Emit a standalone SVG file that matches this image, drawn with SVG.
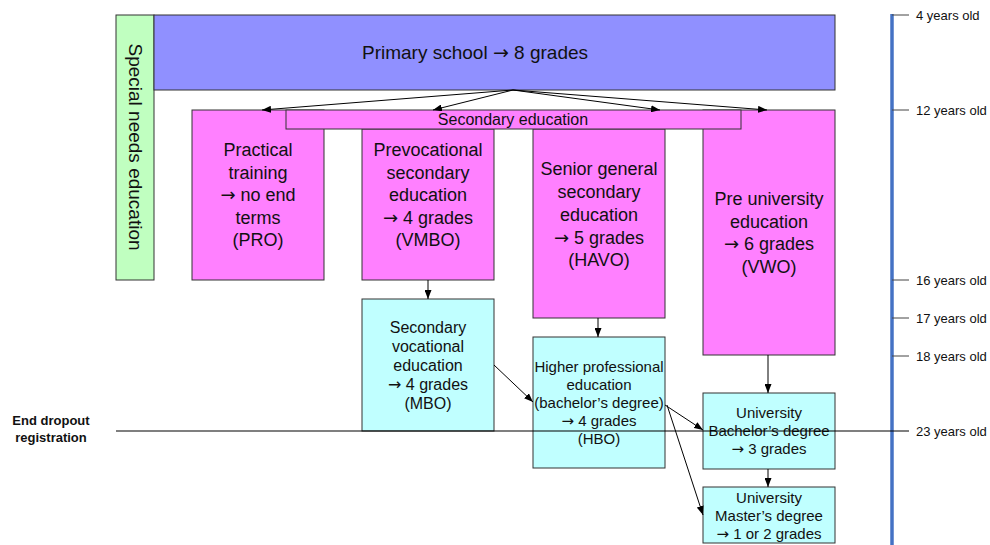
<svg xmlns="http://www.w3.org/2000/svg" width="990" height="545" viewBox="0 0 990 545">
<style>
.b{stroke:#333;stroke-width:1}
.pink{fill:#ff80ff}
.cyan{fill:#c0ffff}
text{font-family:"Liberation Sans",Arial,sans-serif;fill:#111;text-anchor:middle}
.ar{font-family:"DejaVu Sans",sans-serif}
.f18{font-size:18px}
.f16{font-size:16px}
.f15{font-size:15px}
.age{font-size:13px;text-anchor:start}
.c{stroke:#000;stroke-width:1;fill:none;marker-end:url(#ah)}
.tick{stroke:#444;stroke-width:1}
</style>
<defs>
<marker id="ah" markerUnits="userSpaceOnUse" markerWidth="9" markerHeight="7" refX="9" refY="3.5" orient="auto">
<path d="M0,0 L9,3.5 L0,7 z" fill="#000"/>
</marker>
</defs>
<rect width="990" height="545" fill="#fff"/>

<g id="special-needs">
<rect class="b" x="116" y="15" width="38" height="265" fill="#c0ffc0"/>
<text style="font-size:19px" transform="translate(135,147) rotate(90)" y="6.5">Special needs education</text>
</g>

<g id="primary">
<rect class="b" x="154" y="15" width="681" height="75" fill="#9090ff"/>
<text style="font-size:19px" x="475" y="59">Primary school <tspan class="ar">→</tspan> 8 grades</text>
</g>

<g id="pro">
<rect class="b pink" x="192" y="110" width="132" height="170"/>
<text class="f18"><tspan x="258" y="156">Practical</tspan><tspan x="258" y="178.5">training</tspan><tspan x="258" y="201"><tspan class="ar">→</tspan> no end</tspan><tspan x="258" y="223.5">terms</tspan><tspan x="258" y="246">(PRO)</tspan></text>
</g>

<g id="vmbo">
<rect class="b pink" x="362" y="129" width="132" height="151"/>
<text class="f18"><tspan x="428" y="156">Prevocational</tspan><tspan x="428" y="178.5">secondary</tspan><tspan x="428" y="201">education</tspan><tspan x="428" y="223.5"><tspan class="ar">→</tspan> 4 grades</tspan><tspan x="428" y="246">(VMBO)</tspan></text>
</g>

<g id="havo">
<rect class="b pink" x="533" y="129" width="132" height="189"/>
<text class="f18"><tspan x="599" y="175">Senior general</tspan><tspan x="599" y="198">secondary</tspan><tspan x="599" y="221">education</tspan><tspan x="599" y="243.5"><tspan class="ar">→</tspan> 5 grades</tspan><tspan x="599" y="266">(HAVO)</tspan></text>
</g>

<g id="vwo">
<rect class="b pink" x="703" y="110" width="132" height="245"/>
<text class="f18"><tspan x="769" y="205">Pre university</tspan><tspan x="769" y="227.5">education</tspan><tspan x="769" y="250"><tspan class="ar">→</tspan> 6 grades</tspan><tspan x="769" y="273">(VWO)</tspan></text>
</g>

<g id="secondary-education">
<rect class="b pink" x="286" y="110" width="455" height="19"/>
<text class="f16" x="513" y="125">Secondary education</text>
</g>

<g id="mbo">
<rect class="b cyan" x="362" y="299" width="132" height="132"/>
<text class="f16"><tspan x="428" y="333">Secondary</tspan><tspan x="428" y="352">vocational</tspan><tspan x="428" y="371">education</tspan><tspan x="428" y="390"><tspan class="ar">→</tspan> 4 grades</tspan><tspan x="428" y="409">(MBO)</tspan></text>
</g>

<g id="hbo">
<rect class="b cyan" x="533" y="337" width="132" height="131"/>
<text class="f15"><tspan x="599" y="372">Higher professional</tspan><tspan x="599" y="390">education</tspan><tspan x="599" y="408">(bachelor’s degree)</tspan><tspan x="599" y="425.5"><tspan class="ar">→</tspan> 4 grades</tspan><tspan x="599" y="443.5">(HBO)</tspan></text>
</g>

<g id="bachelor">
<rect class="b cyan" x="703" y="393" width="132" height="76"/>
<text class="f15"><tspan x="769" y="418">University</tspan><tspan x="769" y="436">Bachelor’s degree</tspan><tspan x="769" y="454"><tspan class="ar">→</tspan> 3 grades</tspan></text>
</g>

<g id="master">
<rect class="b cyan" x="703" y="487" width="132" height="56"/>
<text class="f15"><tspan x="769" y="503">University</tspan><tspan x="769" y="521">Master’s degree</tspan><tspan x="769" y="539"><tspan class="ar">→</tspan> 1 or 2 grades</tspan></text>
</g>

<g id="connectors">
<line class="c" x1="513" y1="90" x2="262" y2="110"/>
<line class="c" x1="513" y1="90" x2="433" y2="110"/>
<line class="c" x1="513" y1="90" x2="660" y2="110"/>
<line class="c" x1="513" y1="90" x2="767" y2="110"/>
<line class="c" x1="428" y1="280" x2="428" y2="299"/>
<line class="c" x1="598" y1="318" x2="598" y2="337"/>
<line class="c" x1="768" y1="355" x2="768" y2="393"/>
<line class="c" x1="768" y1="469" x2="768" y2="487"/>
<line class="c" x1="494" y1="365" x2="533" y2="402"/>
<line class="c" x1="665" y1="405" x2="703" y2="430"/>
<line class="c" x1="667" y1="405" x2="703" y2="515"/>
</g>

<g id="age-axis">
<line x1="892" y1="14" x2="892" y2="545" stroke="#4472c4" stroke-width="3.5"/>
<line class="tick" x1="892" y1="15" x2="909" y2="15"/>
<line class="tick" x1="892" y1="110" x2="909" y2="110"/>
<line class="tick" x1="892" y1="280" x2="909" y2="280"/>
<line class="tick" x1="892" y1="318" x2="909" y2="318"/>
<line class="tick" x1="892" y1="356" x2="909" y2="356"/>
<text class="age" x="916" y="19.5">4 years old</text>
<text class="age" x="916" y="114.5">12 years old</text>
<text class="age" x="916" y="284.5">16 years old</text>
<text class="age" x="916" y="322.5">17 years old</text>
<text class="age" x="916" y="360.5">18 years old</text>
<text class="age" x="916" y="435.5">23 years old</text>
</g>

<g id="dropout">
<line x1="116" y1="431" x2="909" y2="431" stroke="#000" stroke-width="1.2"/>
<text style="font-size:13px;font-weight:bold"><tspan x="51" y="425">End dropout</tspan><tspan x="51" y="442">registration</tspan></text>
</g>
</svg>
